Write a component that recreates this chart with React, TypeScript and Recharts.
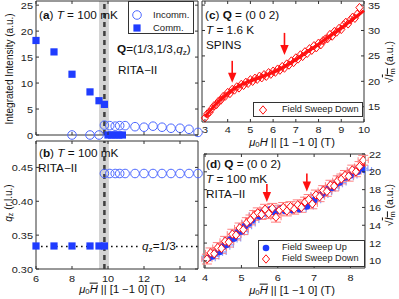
import React from "react";
import {
  ComposedChart,
  Scatter,
  Line,
  XAxis,
  YAxis,
  ReferenceArea,
  ReferenceLine,
  ErrorBar,
  Legend,
} from "recharts";

const FONT = '"Liberation Sans", Arial, Helvetica, sans-serif';
const AX = "#333";
const BLUE = "#1f3cff";
const BLUE_OPEN = "#4d68ff";
const RED = "#ff1010";

// ---- panels (a) & (b): RITA-II, 100 mK ----
const abXTicks = [6, 8, 10, 12, 14];
const aYTicks = [0, 5, 10, 15, 20, 25];
const bYTicks = [0.3, 0.35, 0.4, 0.45];

const commField = [6, 7, 8, 9, 9.5, 9.8];
const commIntensity = [18.2, 16.0, 11.7, 8.3, 6.6, 5.9];
const commQz = [0.334, 0.334, 0.334, 0.334, 0.334, 0.334];
const commZeroField = [10, 10.2, 10.4, 10.6, 10.8];
const commZeroIntensity = [0, 0, 0, 0, 0];

const incommZeroField = [8, 9, 9.5];
const incommZeroIntensity = [0, 0, 0];
const incommField = [9.8, 10.1, 10.4, 10.65, 10.95, 11.5, 12, 12.5, 13, 13.5, 14, 14.5, 15];
const incommIntensity = [1.9, 1.8, 1.7, 1.8, 1.8, 1.6, 1.5, 1.7, 1.5, 1.3, 1.3, 1.1, 0.5];
const incommQz = [0.441, 0.441, 0.441, 0.441, 0.441, 0.441, 0.441, 0.441, 0.441, 0.441, 0.441, 0.441, 0.441];

const transitionField = 9.8;
const bandLo = 9.5;
const bandHi = 10.05;
const qzComm = 1 / 3;

// ---- panel (c): SPINS, 1.6 K ----
const cXTicks = [3, 4, 5, 6, 7, 8, 9, 10];
const cYTicks = [15, 20, 25, 30, 35];
const cField = [
  3.0, 3.1, 3.2, 3.3, 3.4, 3.5, 3.6, 3.7, 3.8, 3.9, 4.0, 4.1, 4.2, 4.3, 4.4, 4.5, 4.6, 4.7, 4.8, 4.9,
  5.0, 5.1, 5.2, 5.3, 5.4, 5.5, 5.6, 5.7, 5.8, 5.9, 6.0, 6.1, 6.2, 6.3, 6.4, 6.5, 6.6, 6.7, 6.8, 6.9,
  7.0, 7.1, 7.2, 7.3, 7.4, 7.5, 7.6, 7.7, 7.8, 7.9, 8.0, 8.1, 8.2, 8.3, 8.4, 8.5, 8.6, 8.7, 8.8, 8.9,
  9.0, 9.1, 9.2, 9.3, 9.4, 9.5, 9.6, 9.7, 9.8,
];
const cRoot = [
  12.8, 13.6, 13.9, 14.6, 15.2, 15.4, 16.1, 16.3, 17.0, 17.1, 17.8, 17.6, 18.4, 18.3, 18.9, 18.7, 19.4, 19.2, 19.8, 19.6,
  20.3, 20.0, 20.6, 20.4, 21.0, 20.7, 21.3, 21.0, 21.7, 21.4, 22.0, 21.8, 22.4, 22.2, 22.9, 22.6, 23.4, 23.2, 24.0, 23.7,
  24.6, 24.4, 25.2, 24.9, 25.8, 25.5, 26.4, 26.1, 27.0, 26.6, 27.5, 27.2, 28.0, 28.3, 28.4, 29.2, 28.9, 29.8, 29.7, 30.4,
  30.2, 31.1, 31.6, 31.3, 32.1, 32.6, 32.4, 33.2, 34.5,
];
const cFitField = [3, 3.5, 4, 4.2, 4.5, 5, 5.5, 6, 6.5, 7, 7.5, 8, 8.5, 9, 9.5, 10];
const cFitRoot = [13.0, 15.6, 17.6, 18.3, 19.1, 20.1, 20.9, 21.8, 22.9, 24.3, 25.8, 27.3, 28.9, 30.5, 32.2, 33.9];
const cArrowField = [4.2, 6.5];
const cArrowTip = [19.7, 25.2];

// ---- panel (d): RITA-II, 100 mK ----
const dXTicks = [4, 5, 6, 7, 8];
const dYTicks = [10, 12, 14, 16, 18, 20, 22];
const dUpField = [
  4.1, 4.2, 4.3, 4.4, 4.5, 4.6, 4.7, 4.8, 4.9, 5.0, 5.1, 5.2, 5.3, 5.4, 5.5, 5.6, 5.7, 5.8, 5.9, 6.0, 6.1, 6.2,
  6.3, 6.4, 6.5, 6.6, 6.7, 6.8, 6.9, 7.0, 7.1, 7.2, 7.3, 7.4, 7.5, 7.6, 7.7, 7.8, 7.9, 8.0, 8.1, 8.2, 8.3, 8.4,
];
const dUpRoot = [
  10.3, 10.5, 10.9, 11.0, 11.6, 11.8, 12.4, 12.5, 13.2, 13.3, 13.9, 14.2, 14.6, 15.1, 15.0, 15.5, 15.4, 15.8, 15.5, 15.6, 15.9, 15.6,
  15.8, 15.7, 16.0, 15.8, 16.2, 16.1, 16.7, 16.8, 17.3, 17.4, 17.7, 18.1, 18.2, 18.6, 18.8, 19.3, 19.4, 19.6, 20.1, 20.0, 20.4, 20.2,
];
const dDownField = [
  4.05, 4.15, 4.25, 4.35, 4.45, 4.55, 4.65, 4.75, 4.85, 4.95, 5.05, 5.15, 5.25, 5.35, 5.45, 5.55, 5.65, 5.75, 5.85, 5.95, 6.05, 6.15,
  6.25, 6.35, 6.45, 6.55, 6.65, 6.75, 6.85, 6.95, 7.05, 7.15, 7.25, 7.35, 7.45, 7.55, 7.65, 7.75, 7.85, 7.95, 8.05, 8.15, 8.25, 8.35,
];
const dDownRoot = [
  10.2, 10.9, 10.8, 11.5, 11.4, 12.2, 12.1, 13.0, 12.9, 13.7, 13.5, 14.3, 14.6, 15.1, 15.4, 15.2, 15.8, 15.3, 15.9, 14.9, 15.7, 16.0,
  15.6, 16.1, 15.8, 16.3, 16.0, 16.6, 16.9, 16.4, 17.4, 17.2, 17.9, 17.8, 18.5, 18.4, 19.0, 19.2, 19.6, 19.5, 20.2, 20.0, 20.6, 21.3,
];
const dUpFieldErr = 0.18;
const dDownFieldErr = 0.14;
const dDownRootErr = 0.55;
const dFitField = [4, 4.25, 4.5, 4.75, 5, 5.25, 5.5, 5.7, 6, 6.25, 6.5, 6.8, 7, 7.25, 7.5, 7.75, 8, 8.25, 8.4];
const dFitRoot = [10.2, 10.9, 11.8, 12.7, 13.6, 14.5, 15.3, 15.6, 15.7, 15.8, 15.9, 16.3, 17.0, 17.6, 18.3, 19.0, 19.8, 20.4, 20.8];
const dArrowField = [5.7, 6.8];
const dArrowTip = [16.6, 17.8];

const pts = (xs: number[], ys: number[]) => xs.map((x, i) => ({ x, y: ys[i] }));

type Box = { l: number; t: number; r: number; b: number };
const boxA: Box = { l: 36, t: 1, r: 198, b: 135 };
const boxB: Box = { l: 36, t: 141, r: 198, b: 269 };
const boxC: Box = { l: 202, t: 1, r: 364, b: 122 };
const boxD: Box = { l: 204, t: 154, r: 365, b: 268 };

// axes get a 1px band so that they are drawn; margins compensate
const marginOf = (bx: Box, side: "left" | "right") => ({
  top: bx.t,
  left: side === "left" ? bx.l - 1 : bx.l,
  right: side === "right" ? 399 - bx.r - 1 : 399 - bx.r,
  bottom: 299 - bx.b - 1,
});

const xTick = (bx: Box, show: boolean, dy: number) => (p: any) => (
  <g>
    <line x1={p.x} x2={p.x} y1={bx.b} y2={bx.b - 3} stroke={AX} />
    <line x1={p.x} x2={p.x} y1={bx.t} y2={bx.t + 3} stroke={AX} />
    {show && (
      <text transform={`translate(${p.x},${bx.b + dy}) scale(1.15,1)`} textAnchor="middle" fontSize={9.5} fontFamily={FONT} fill="#222">
        {p.payload.value}
      </text>
    )}
  </g>
);

const yTick = (bx: Box, side: "left" | "right", fmt: (v: number) => string) => (p: any) => (
  <g>
    <line x1={bx.l} x2={bx.l + 3} y1={p.y} y2={p.y} stroke={AX} />
    <line x1={bx.r} x2={bx.r - 3} y1={p.y} y2={p.y} stroke={AX} />
    <text
      transform={`translate(${side === "left" ? bx.l - 3 : bx.r + 4},${p.y + 3.5}) scale(1.15,1)`}
      textAnchor={side === "left" ? "end" : "start"}
      fontSize={9.5}
      fontFamily={FONT}
      fill="#222"
    >
      {fmt(p.payload.value)}
    </text>
  </g>
);

const openCircle = (p: any) => <circle cx={p.cx} cy={p.cy} r={4.3} fill="none" stroke={BLUE_OPEN} strokeWidth={1} />;
const square = (p: any) => <rect x={p.cx - 3.6} y={p.cy - 3.6} width={7.2} height={7.2} fill={BLUE} />;
const dot = (p: any) => <circle cx={p.cx} cy={p.cy} r={3.3} fill={BLUE} />;
const diamond = (fill: string) => (p: any) => (
  <path d={`M${p.cx},${p.cy - 4.2}L${p.cx + 3.6},${p.cy}L${p.cx},${p.cy + 4.2}L${p.cx - 3.6},${p.cy}Z`} fill={fill} stroke={RED} strokeWidth={1} />
);
const arrow = (len: number) => (p: any) => (
  <g>
    <line x1={p.cx} x2={p.cx} y1={p.cy - len} y2={p.cy - 8} stroke={RED} strokeWidth={1.6} />
    <path d={`M${p.cx - 4.2},${p.cy - 10}L${p.cx + 4.2},${p.cy - 10}L${p.cx},${p.cy}Z`} fill={RED} />
  </g>
);

type Item = { label: string; sym: React.ReactNode };
const SymCircle = () => <svg width={10} height={10}><circle cx={5} cy={5} r={4.3} fill="none" stroke={BLUE_OPEN} /></svg>;
const SymSquare = () => <svg width={10} height={10}><rect x={1.4} y={1.4} width={7.2} height={7.2} fill={BLUE} /></svg>;
const SymDot = () => <svg width={10} height={10}><circle cx={5} cy={5} r={3.3} fill={BLUE} /></svg>;
const SymDiamond = () => <svg width={10} height={10}><path d="M5,0.8L8.6,5L5,9.2L1.4,5Z" fill="#fff" stroke={RED} /></svg>;

const LegendBox = ({ items, w, h, rows, symX, textX, size }: { items: Item[]; w: number; h: number; rows: number[]; symX: number; textX: number; size: number }) => (
  <div style={{ position: "relative", width: w, height: h, boxSizing: "border-box", border: `1px solid ${AX}`, background: "#fff", fontFamily: FONT, fontSize: size, color: "#222" }}>
    {items.map((it, i) => (
      <React.Fragment key={it.label}>
        <div style={{ position: "absolute", left: symX - 6, top: rows[i] - 6, width: 10, height: 10, lineHeight: 0 }}>{it.sym}</div>
        <div style={{ position: "absolute", left: textX - 1, top: rows[i] - 1 - size / 2, lineHeight: 1, whiteSpace: "nowrap" }}>{it.label}</div>
      </React.Fragment>
    ))}
  </div>
);

const Note = ({ x, y, size = 10.5, anchor = "left", rot = 0, sx = 1.12, children }: any) => (
  <div
    style={{
      position: "absolute",
      left: x,
      top: y,
      fontFamily: FONT,
      fontSize: size,
      lineHeight: 1,
      color: "#111",
      whiteSpace: "nowrap",
      transformOrigin: anchor === "left" ? "left center" : "center center",
      transform: `translate(${anchor === "center" ? "-50%" : "0"}, -50%) rotate(${rot}deg) scaleX(${sx})`,
    }}
  >
    {children}
  </div>
);

const Layer = ({ children }: { children: React.ReactNode }) => (
  <div style={{ position: "absolute", left: 0, top: 0, width: 399, height: 299 }}>{children}</div>
);

const I = ({ children }: any) => <i>{children}</i>;
const Sub = ({ children }: any) => <sub style={{ fontSize: "0.7em", verticalAlign: "-0.25em" }}>{children}</sub>;
const FieldLabel = ({ bar }: { bar: boolean }) => (
  <span>
    <I>μ</I>
    <Sub>0</Sub>
    <I><span style={{ textDecoration: bar ? "overline" : "none" }}>H</span></I> || [1 −1 0] (T)
  </span>
);
const RootLabel = () => (
  <span>
    √<span style={{ textDecoration: "overline" }}><I>I</I><Sub>m</Sub></span> (a.u.)
  </span>
);

const axisCommon = { type: "number" as const, interval: 0, axisLine: false, tickLine: false, tickSize: 0, tickMargin: 0 };

function PanelA() {
  const dom: [number, number] = [6, 15];
  const ydom: [number, number] = [0, 25.8];
  return (
    <ComposedChart width={399} height={299} margin={marginOf(boxA, "left")}>
      <XAxis {...axisCommon} dataKey="x" domain={dom} ticks={abXTicks} height={1} tick={xTick(boxA, false, 12)} />
      <YAxis {...axisCommon} dataKey="y" domain={ydom} ticks={aYTicks} width={1} tick={yTick(boxA, "left", (v) => String(v))} />
      <ReferenceArea x1={bandLo} x2={bandHi} fill="#d4d4d4" fillOpacity={1} stroke="none" />
      <ReferenceLine x={transitionField} stroke="#404040" strokeWidth={2.5} strokeDasharray="5 4" />
      <Scatter data={pts(incommZeroField, incommZeroIntensity)} shape={openCircle} isAnimationActive={false} />
      <Scatter data={pts(incommField, incommIntensity)} shape={openCircle} isAnimationActive={false} />
      <Scatter data={pts(commField, commIntensity)} shape={square} isAnimationActive={false} />
      <Scatter data={pts(commZeroField, commZeroIntensity)} shape={square} isAnimationActive={false} />
      <ReferenceArea x1={dom[0]} x2={dom[1]} y1={ydom[0]} y2={ydom[1]} fill="none" stroke={AX} strokeWidth={1} />
      <Legend
        layout="vertical"
        align="center"
        verticalAlign="middle"
        width={66}
        height={33}
        wrapperStyle={{ left: 128, top: 1, width: 66, height: 33 }}
        content={() => (
          <LegendBox
            w={66}
            h={33}
            size={9.5}
            rows={[14, 27]}
            symX={9}
            textX={25}
            items={[
              { label: "Incomm.", sym: <SymCircle /> },
              { label: "Comm.", sym: <SymSquare /> },
            ]}
          />
        )}
      />
    </ComposedChart>
  );
}

function PanelB() {
  const dom: [number, number] = [6, 15];
  const ydom: [number, number] = [0.3, 0.489];
  return (
    <ComposedChart width={399} height={299} margin={marginOf(boxB, "left")}>
      <XAxis {...axisCommon} dataKey="x" domain={dom} ticks={abXTicks} height={1} tick={xTick(boxB, true, 13)} />
      <YAxis {...axisCommon} dataKey="y" domain={ydom} ticks={bYTicks} width={1} tick={yTick(boxB, "left", (v) => v.toFixed(2))} />
      <ReferenceArea x1={bandLo} x2={bandHi} fill="#d4d4d4" fillOpacity={1} stroke="none" />
      <ReferenceLine x={transitionField} stroke="#404040" strokeWidth={2.5} strokeDasharray="5 4" />
      <ReferenceLine y={qzComm} stroke="#111" strokeWidth={1.6} strokeDasharray="1.6 3.4" />
      <Scatter data={pts(incommField, incommQz)} shape={openCircle} isAnimationActive={false} />
      <Scatter data={pts(commField, commQz)} shape={square} isAnimationActive={false} />
      <ReferenceArea x1={dom[0]} x2={dom[1]} y1={ydom[0]} y2={ydom[1]} fill="none" stroke={AX} strokeWidth={1} />
    </ComposedChart>
  );
}

function PanelC() {
  const dom: [number, number] = [2.87, 10];
  const ydom: [number, number] = [12, 35.8];
  return (
    <ComposedChart width={399} height={299} margin={marginOf(boxC, "right")}>
      <XAxis {...axisCommon} dataKey="x" domain={dom} ticks={cXTicks} height={1} tick={xTick(boxC, true, 10.5)} />
      <YAxis {...axisCommon} dataKey="y" orientation="right" domain={ydom} ticks={cYTicks} width={1} tick={yTick(boxC, "right", (v) => String(v))} />
      <Scatter data={pts(cField, cRoot)} shape={diamond("none")} isAnimationActive={false} />
      <Line data={pts(cFitField, cFitRoot)} dataKey="y" type="monotone" stroke={RED} strokeWidth={3} dot={false} isAnimationActive={false} />
      <Scatter data={pts(cArrowField, cArrowTip)} shape={arrow(22)} isAnimationActive={false} />
      <ReferenceArea x1={dom[0]} x2={dom[1]} y1={ydom[0]} y2={ydom[1]} fill="none" stroke={AX} strokeWidth={1} />
      <Legend
        layout="vertical"
        align="center"
        verticalAlign="middle"
        width={110}
        height={15}
        wrapperStyle={{ left: 253, top: 102, width: 110, height: 15 }}
        content={() => (
          <LegendBox w={110} h={15} size={9.2} rows={[7.5]} symX={10} textX={29} items={[{ label: "Field Sweep Down", sym: <SymDiamond /> }]} />
        )}
      />
    </ComposedChart>
  );
}

function PanelD() {
  const dom: [number, number] = [3.97, 8.4];
  const ydom: [number, number] = [9.2, 22];
  const up = dUpField.map((x, i) => ({ x, y: dUpRoot[i], xe: dUpFieldErr }));
  const down = dDownField.map((x, i) => ({ x, y: dDownRoot[i], xe: dDownFieldErr, ye: dDownRootErr }));
  return (
    <ComposedChart width={399} height={299} margin={marginOf(boxD, "right")}>
      <XAxis {...axisCommon} allowDataOverflow dataKey="x" domain={dom} ticks={dXTicks} height={1} tick={xTick(boxD, true, 13)} />
      <YAxis {...axisCommon} allowDataOverflow dataKey="y" orientation="right" domain={ydom} ticks={dYTicks} width={1} tick={yTick(boxD, "right", (v) => String(v))} />
      <Scatter data={up} shape={dot} isAnimationActive={false}>
        <ErrorBar dataKey="xe" direction="x" width={3} stroke="#8aa0ff" strokeWidth={1.2} isAnimationActive={false} />
      </Scatter>
      <Scatter data={down} shape={diamond("#fff")} isAnimationActive={false}>
        <ErrorBar dataKey="xe" direction="x" width={3} stroke="#ff8080" strokeWidth={1} isAnimationActive={false} />
        <ErrorBar dataKey="ye" direction="y" width={5} stroke="#ff8080" strokeWidth={1} isAnimationActive={false} />
      </Scatter>
      <Line data={pts(dFitField, dFitRoot)} dataKey="y" type="monotone" stroke={RED} strokeWidth={3} dot={false} isAnimationActive={false} />
      <Scatter data={pts(dArrowField, dArrowTip)} shape={arrow(18)} isAnimationActive={false} />
      <ReferenceArea x1={dom[0]} x2={dom[1]} y1={ydom[0]} y2={ydom[1]} fill="none" stroke={AX} strokeWidth={1} ifOverflow="visible" />
      <Legend
        layout="vertical"
        align="center"
        verticalAlign="middle"
        width={107}
        height={27}
        wrapperStyle={{ left: 258, top: 240, width: 107, height: 27 }}
        content={() => (
          <LegendBox
            w={107}
            h={27}
            size={9.2}
            rows={[8, 18.5]}
            symX={8}
            textX={24}
            items={[
              { label: "Field Sweep Up", sym: <SymDot /> },
              { label: "Field Sweep Down", sym: <SymDiamond /> },
            ]}
          />
        )}
      />
    </ComposedChart>
  );
}

export default function App() {
  return (
    <div style={{ position: "absolute", left: 0, top: 0, width: 399, height: 299, background: "#fff", overflow: "hidden" }}>
      <Layer><PanelA /></Layer>
      <Layer><PanelB /></Layer>
      <Layer><PanelC /></Layer>
      <Layer><PanelD /></Layer>

      {/* panel (a) notes */}
      <Note x={39} y={15}>(<b>a</b>) <I>T</I> = 100 mK</Note>
      <Note x={117} y={50}><b>Q</b>=(1/3,1/3,<I>q</I><Sub>z</Sub>)</Note>
      <Note x={118} y={70}>RITA−II</Note>
      <Note x={10} y={69} anchor="center" rot={-90} sx={1} size={10}>Integrated Intensity (a.u.)</Note>

      {/* panel (b) notes */}
      <Note x={39} y={153}>(<b>b</b>) <I>T</I> = 100 mK</Note>
      <Note x={38} y={168}>RITA−II</Note>
      <div style={{ position: "absolute", left: 141, top: 240, width: 32, height: 14, background: "#fff" }} />
      <Note x={142} y={247}><I>q</I><Sub>z</Sub>=1/3</Note>
      <Note x={9} y={203} anchor="center" rot={-90} sx={1} size={10}><I>q</I><Sub>z</Sub> (r.l.u.)</Note>
      <Note x={122} y={290} anchor="center" size={10}><FieldLabel bar={true} /></Note>

      {/* panel (c) notes */}
      <Note x={205} y={15}>(<b>c</b>) <b>Q</b> = (0 0 2)</Note>
      <Note x={206} y={30}><I>T</I> = 1.6 K</Note>
      <Note x={206} y={45}>SPINS</Note>
      <Note x={292} y={143} anchor="center" size={10}><FieldLabel bar={false} /></Note>
      <Note x={390} y={62} anchor="center" rot={-90} sx={1} size={10.5}><RootLabel /></Note>

      {/* panel (d) notes */}
      <Note x={206} y={164}>(<b>d</b>) <b>Q</b> = (0 0 2)</Note>
      <Note x={206} y={179}><I>T</I> = 100 mK</Note>
      <Note x={206} y={194}>RITA−II</Note>
      <Note x={292} y={291} anchor="center" size={10}><FieldLabel bar={true} /></Note>
      <Note x={390} y={205} anchor="center" rot={-90} sx={1} size={10.5}><RootLabel /></Note>
    </div>
  );
}
